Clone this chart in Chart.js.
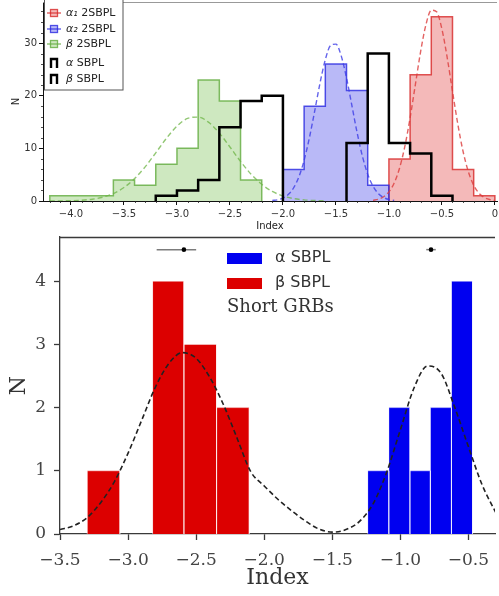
<!DOCTYPE html>
<html>
<head>
<meta charset="utf-8">
<script src="https://cdn.jsdelivr.net/npm/chart.js@4.4.1/dist/chart.umd.min.js"></script>
<style>
  body { margin: 0; background: #fff; }
  canvas { position: absolute; left: 0; }
  #top { top: 0; }
  #bottom { top: 232px; }
</style>
</head>
<body>
<canvas id="top" width="499" height="232"></canvas>
<canvas id="bottom" width="499" height="364"></canvas>
<script>
// ---- top panel: index histograms (bin width 0.2)
const a1Edges = [-1.0, -0.8, -0.6, -0.4, -0.2, 0.0];
const a1Counts = [8, 24, 35, 6, 1];
const a2Edges = [-2.0, -1.8, -1.6, -1.4, -1.2, -1.0];
const a2Counts = [6, 18, 26, 21, 3];
const b2Edges = [-4.2, -4.0, -3.8, -3.6, -3.4, -3.2, -3.0, -2.8, -2.6, -2.4, -2.2];
const b2Counts = [1, 1, 1, 4, 3, 7, 10, 23, 19, 4];
const aSEdges = [-1.4, -1.2, -1.0, -0.8, -0.6, -0.4];
const aSCounts = [11, 28, 11, 9, 1];
const bSEdges = [-3.2, -3.0, -2.8, -2.6, -2.4, -2.2, -2.0];
const bSCounts = [1, 2, 4, 14, 19, 20];

// dashed fit curves
const greenFitX = [-4.2, -4.1, -4.0, -3.9, -3.8, -3.7, -3.6, -3.5, -3.4, -3.3, -3.2, -3.1, -3.0, -2.9, -2.8, -2.7, -2.6, -2.5, -2.4, -2.3, -2.2, -2.1, -2.0, -1.9, -1.8, -1.7, -1.6];
const greenFitY = [0.01, 0.02, 0.06, 0.15, 0.34, 0.73, 1.42, 2.56, 4.25, 6.49, 9.15, 11.88, 14.22, 15.68, 15.94, 14.93, 12.90, 10.26, 7.52, 5.08, 3.17, 1.82, 0.96, 0.47, 0.21, 0.09, 0.03];
const blueFitX = [-2.10, -2.05, -2.00, -1.95, -1.90, -1.85, -1.80, -1.75, -1.70, -1.65, -1.60, -1.55, -1.50, -1.45, -1.40, -1.35, -1.30, -1.25, -1.20, -1.15, -1.10, -1.05, -1.00, -0.95];
const blueFitY = [0.09, 0.23, 0.56, 1.22, 2.47, 4.56, 7.73, 12.02, 17.13, 22.40, 26.86, 29.54, 29.79, 27.56, 23.39, 18.20, 12.99, 8.50, 5.10, 2.81, 1.42, 0.66, 0.28, 0.11];
const redFitX = [-1.15, -1.10, -1.05, -1.00, -0.95, -0.90, -0.85, -0.80, -0.75, -0.70, -0.65, -0.60, -0.55, -0.50, -0.45, -0.40, -0.35, -0.30, -0.25, -0.20, -0.15, -0.10, -0.05, 0.00];
const redFitY = [0.13, 0.34, 0.80, 1.73, 3.42, 6.21, 10.34, 15.80, 22.14, 28.46, 33.53, 36.25, 35.93, 32.67, 27.25, 20.84, 14.62, 9.40, 5.55, 3.00, 1.49, 0.68, 0.28, 0.11];

const topXTicks = [-4.0, -3.5, -3.0, -2.5, -2.0, -1.5, -1.0, -0.5, 0];
const topYTicks = [0, 10, 20, 30];
const topLegend = ['α₁ 2SBPL', 'α₂ 2SBPL', 'β 2SBPL', 'α SBPL', 'β SBPL'];

// ---- bottom panel: short GRBs
const betaEdges = [-3.30, -3.06, -2.82, -2.59, -2.35, -2.11];
const betaCounts = [1, 0, 4, 3, 2];
const alphaEdges = [-1.24, -1.085, -0.93, -0.78, -0.625, -0.47];
const alphaCounts = [1, 2, 1, 2, 4];
const fitX = [-3.5, -3.4, -3.3, -3.2, -3.1, -3.0, -2.9, -2.8, -2.7, -2.6, -2.5, -2.4, -2.3, -2.2, -2.1, -2.0, -1.9, -1.8, -1.7, -1.6, -1.5, -1.4, -1.3, -1.2, -1.1, -1.0, -0.9, -0.8, -0.7, -0.6, -0.5, -0.4, -0.3];
const fitY = [0.07, 0.13, 0.26, 0.50, 0.83, 1.28, 1.80, 2.32, 2.70, 2.87, 2.78, 2.48, 2.05, 1.52, 0.99, 0.76, 0.55, 0.37, 0.21, 0.08, 0.03, 0.07, 0.20, 0.48, 0.98, 1.65, 2.31, 2.66, 2.54, 2.00, 1.38, 0.78, 0.34];
const errX = [-2.59, -0.775];
const errLo = [-2.79, -0.81];
const errHi = [-2.50, -0.74];
const errY = 4.5;
const bottomXTicks = [-3.5, -3.0, -2.5, -2.0, -1.5, -1.0, -0.5];
const bottomYTicks = [0, 1, 2, 3, 4];

const SANS = 'DejaVu Sans';
const SERIF = 'DejaVu Serif';

function fmtTick(v) {
  if (v === 0) return '0';
  return (v < 0 ? '\u2212' : '') + Math.abs(v).toFixed(1);
}

function stepPts(edges, counts) {
  const pts = [{ x: edges[0], y: 0 }];
  counts.forEach((c, i) => pts.push({ x: edges[i], y: c }));
  pts.push({ x: edges[edges.length - 1], y: 0 });
  return pts;
}

function curvePts(xs, ys) {
  return xs.map((x, i) => ({ x: x, y: ys[i] }));
}

function histSet(edges, counts, fillCol, lineCol, w, order) {
  return {
    data: stepPts(edges, counts), stepped: true,
    fill: fillCol ? 'origin' : false, backgroundColor: fillCol || 'transparent',
    borderColor: lineCol, borderWidth: w, pointRadius: 0, order: order
  };
}

function fitSet(xs, ys, col, order) {
  return {
    data: curvePts(xs, ys), borderColor: col, borderWidth: 1.4, borderDash: [5, 3],
    pointRadius: 0, fill: false, cubicInterpolationMode: 'monotone', order: order
  };
}

const RED_F = 'rgba(225,70,70,0.38)', RED_L = 'rgba(215,40,40,0.8)';
const BLUE_F = 'rgba(70,70,235,0.38)', BLUE_L = 'rgba(40,40,225,0.8)';
const GREEN_F = 'rgba(120,190,80,0.36)', GREEN_L = 'rgba(105,175,70,0.85)';

const topDecor = {
  id: 'topDecor',
  afterDraw(chart) {
    const { ctx, chartArea: a, scales: { x, y } } = chart;
    ctx.save();
    ctx.strokeStyle = '#999'; ctx.lineWidth = 1;
    ctx.beginPath(); ctx.moveTo(a.left, a.top + 0.5); ctx.lineTo(a.right, a.top + 0.5); ctx.stroke();
    // minor ticks
    ctx.strokeStyle = '#222'; ctx.lineWidth = 0.8;
    ctx.beginPath();
    for (let k = -42; k <= 0; k++) {
      if (k % 5 === 0) continue;
      const px = Math.round(x.getPixelForValue(k / 10)) + 0.5;
      ctx.moveTo(px, a.bottom); ctx.lineTo(px, a.bottom + 2);
    }
    for (let k = 2; k <= 36; k += 2) {
      if (k % 10 === 0) continue;
      const py = Math.round(y.getPixelForValue(k)) + 0.5;
      ctx.moveTo(a.left, py); ctx.lineTo(a.left - 2, py);
    }
    ctx.stroke();
    // legend
    ctx.fillStyle = '#fff'; ctx.strokeStyle = '#555'; ctx.lineWidth = 1;
    ctx.fillRect(44, -2, 79, 92); ctx.strokeRect(44.5, -2, 78.5, 92);
    const ys = [13, 29, 44, 63, 79];
    const cols = [[RED_F, RED_L], [BLUE_F, BLUE_L], [GREEN_F, GREEN_L]];
    for (let i = 0; i < 3; i++) {
      const cy = ys[i];
      ctx.fillStyle = cols[i][0]; ctx.fillRect(50.5, cy - 3.5, 7, 7);
      ctx.strokeStyle = cols[i][1]; ctx.lineWidth = 1.3;
      ctx.strokeRect(50.5, cy - 3.5, 7, 7);
      ctx.beginPath(); ctx.moveTo(47, cy); ctx.lineTo(61, cy); ctx.stroke();
    }
    ctx.strokeStyle = '#000'; ctx.lineWidth = 2.4;
    for (let i = 3; i < 5; i++) {
      const cy = ys[i];
      ctx.beginPath(); ctx.moveTo(51, cy + 5); ctx.lineTo(51, cy - 4); ctx.lineTo(57, cy - 4); ctx.lineTo(57, cy + 5); ctx.stroke();
    }
    ctx.fillStyle = '#222'; ctx.textBaseline = 'middle'; ctx.textAlign = 'left';
    topLegend.forEach((t, i) => {
      const sp = t.indexOf(' ');
      const g = t.slice(0, sp), rest = t.slice(sp);
      ctx.font = 'italic 11px "' + SANS + '"';
      ctx.fillText(g, 66, ys[i]);
      const gw = ctx.measureText(g).width;
      ctx.font = '11px "' + SANS + '"';
      ctx.fillText(rest, 66 + gw, ys[i]);
    });
    ctx.restore();
  }
};

new Chart(document.getElementById('top'), {
  type: 'line',
  data: {
    datasets: [
      histSet(b2Edges, b2Counts, GREEN_F, GREEN_L, 1.5, 3),
      histSet(a2Edges, a2Counts, BLUE_F, BLUE_L, 1.5, 3),
      histSet(a1Edges, a1Counts, RED_F, RED_L, 1.5, 3),
      fitSet(greenFitX, greenFitY, 'rgba(110,180,70,0.75)', 2),
      fitSet(blueFitX, blueFitY, 'rgba(60,60,230,0.8)', 2),
      fitSet(redFitX, redFitY, 'rgba(220,60,60,0.8)', 2),
      histSet(bSEdges, bSCounts, null, '#000', 2.5, 1),
      histSet(aSEdges, aSCounts, null, '#000', 2.5, 1)
    ]
  },
  options: {
    responsive: false, animation: false,
    layout: { padding: { top: 2, right: 2, left: 0, bottom: 0 } },
    plugins: { legend: { display: false }, tooltip: { enabled: false } },
    scales: {
      x: {
        type: 'linear', min: -4.264, max: 0.02,
        afterBuildTicks: s => { s.ticks = topXTicks.map(v => ({ value: v })); },
        afterFit: s => { s.height = 31; s.paddingLeft = 0; s.paddingRight = 0; },
        border: { color: '#111', width: 1 },
        grid: { drawOnChartArea: false, tickLength: 4, tickColor: '#111' },
        ticks: { font: { family: SANS, size: 10 }, color: '#333', padding: 3, maxRotation: 0, autoSkip: false, callback: fmtTick },
        title: { display: true, text: 'Index', font: { family: SANS, size: 10 }, color: '#222', padding: { top: 0, bottom: 0 } }
      },
      y: {
        type: 'linear', min: 0, max: 37.8,
        afterBuildTicks: s => { s.ticks = topYTicks.map(v => ({ value: v })); },
        afterFit: s => { s.width = 43; s.paddingTop = 0; s.paddingBottom = 0; },
        border: { color: '#111', width: 1 },
        grid: { drawOnChartArea: false, tickLength: 4, tickColor: '#111' },
        ticks: { font: { family: SANS, size: 10 }, color: '#333', padding: 2 },
        title: { display: true, text: 'N', font: { family: SANS, size: 10 }, color: '#222', padding: { top: 10, bottom: 0 } }
      }
    }
  },
  plugins: [topDecor]
});

// ---- bottom chart
function barSets(edges, counts, col) {
  const out = [];
  counts.forEach((c, i) => {
    if (!c) return;
    out.push({
      data: [{ x: edges[i], y: 0 }, { x: edges[i], y: c }, { x: edges[i + 1], y: c }, { x: edges[i + 1], y: 0 }],
      fill: 'origin', backgroundColor: col, borderColor: 'rgba(255,255,255,0.55)', borderWidth: 0.8,
      pointRadius: 0, tension: 0, order: 3
    });
  });
  return out;
}

const bottomDecor = {
  id: 'bottomDecor',
  afterDraw(chart) {
    const { ctx, chartArea: a } = chart;
    ctx.save();
    ctx.strokeStyle = '#3a3a3a'; ctx.lineWidth = 1.3;
    ctx.beginPath(); ctx.moveTo(a.left, a.top + 0.5); ctx.lineTo(a.right, a.top + 0.5); ctx.stroke();
    ctx.fillStyle = '#0000f0'; ctx.fillRect(227, 21, 35, 11);
    ctx.fillStyle = '#dc0000'; ctx.fillRect(227, 46, 35, 11);
    ctx.fillStyle = '#333'; ctx.textBaseline = 'middle'; ctx.textAlign = 'left';
    ctx.font = '16px "' + SANS + '"';
    ctx.fillText('α SBPL', 275, 26);
    ctx.fillText('β SBPL', 275, 51);
    ctx.font = '18px "' + SERIF + '"';
    ctx.fillText('Short GRBs', 227, 75);
    ctx.restore();
  }
};

const errSets = [];
errX.forEach((cx, i) => {
  errSets.push({ data: [{ x: errLo[i], y: errY }, { x: errHi[i], y: errY }], borderColor: 'rgba(110,110,110,0.9)', borderWidth: 1.5, pointRadius: 0, fill: false, order: 1 });
  errSets.push({ data: [{ x: cx, y: errY }], showLine: false, pointRadius: 2.3, pointBackgroundColor: '#000', pointBorderWidth: 0, order: 0 });
});

new Chart(document.getElementById('bottom'), {
  type: 'line',
  data: {
    datasets: [
      ...barSets(betaEdges, betaCounts, '#dc0000'),
      ...barSets(alphaEdges, alphaCounts, '#0000f0'),
      { data: curvePts(fitX, fitY), borderColor: '#222', borderWidth: 1.6, borderDash: [5, 3], pointRadius: 0, fill: false, cubicInterpolationMode: 'monotone', order: 2 },
      ...errSets
    ]
  },
  options: {
    responsive: false, animation: false,
    layout: { padding: { top: 5, right: 0, left: 0, bottom: 0 } },
    plugins: { legend: { display: false }, tooltip: { enabled: false } },
    scales: {
      x: {
        type: 'linear', min: -3.5, max: -0.305,
        afterBuildTicks: s => { s.ticks = bottomXTicks.map(v => ({ value: v })); },
        afterFit: s => { s.height = 62; s.paddingLeft = 0; s.paddingRight = 0; },
        border: { color: '#3a3a3a', width: 1.3 },
        grid: { drawOnChartArea: false, tickLength: 6, tickColor: '#3a3a3a', tickWidth: 1.3 },
        ticks: { font: { family: SERIF, size: 17 }, color: '#444', padding: 10, maxRotation: 0, autoSkip: false, callback: fmtTick },
        title: { display: true, text: 'Index', font: { family: SERIF, size: 22 }, color: '#333', padding: { top: 0, bottom: 5 } }
      },
      y: {
        type: 'linear', min: 0, max: 4.7,
        afterBuildTicks: s => { s.ticks = bottomYTicks.map(v => ({ value: v })); },
        afterFit: s => { s.width = 60; s.paddingTop = 0; s.paddingBottom = 0; },
        border: { color: '#3a3a3a', width: 1.3 },
        grid: { drawOnChartArea: false, tickLength: 6, tickColor: '#3a3a3a', tickWidth: 1.3 },
        ticks: { font: { family: SERIF, size: 17 }, color: '#444', padding: 8 },
        title: { display: true, text: 'N', font: { family: SERIF, size: 22 }, color: '#333', padding: { top: 6, bottom: 0 } }
      }
    }
  },
  plugins: [bottomDecor]
});
</script>
</body>
</html>
